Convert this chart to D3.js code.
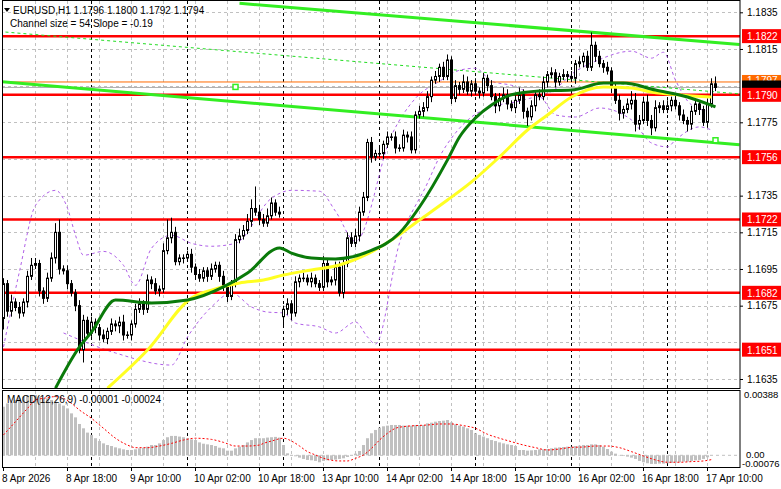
<!DOCTYPE html>
<html>
<head>
<meta charset="utf-8">
<script src="https://cdn.jsdelivr.net/npm/d3@7"></script>
<style>
  body { margin: 0; background: #fff; }
  text { font-family: "Liberation Sans", Arial, sans-serif; font-size: 10px; fill: #000; }
</style>
</head>
<body>
<script>
// EURUSD H1, 8 Apr 02:00 .. 17 Apr 12:00 (179 bars)
const firstOpen = 1.1668;
const gapOpen = {70: 1.1669};
const closes = [
  1.1687,1.1672,1.1677,1.1674,1.1671,1.1677,1.1691,1.1697,1.1698,1.1683,1.1679,1.1690,
  1.1701,1.1715,1.1695,1.1694,1.1687,1.1682,1.1675,1.1651,1.1667,1.1660,1.1666,1.1663,
  1.1659,1.1657,1.1661,1.1665,1.1664,1.1666,1.1659,1.1659,1.1665,1.1673,1.1676,1.1673,
  1.1689,1.1687,1.1683,1.1684,1.1705,1.1712,1.1715,1.1699,1.1701,1.1701,1.1703,1.1696,
  1.1692,1.1690,1.1694,1.1691,1.1695,1.1697,1.1691,1.1685,1.1680,1.1687,1.1711,1.1713,
  1.1716,1.1721,1.1728,1.1726,1.1722,1.1720,1.1724,1.1731,1.1726,1.1725,1.1673,1.1676,
  1.1671,1.1688,1.1690,1.1690,1.1688,1.1690,1.1687,1.1685,1.1698,1.1688,1.1689,1.1696,
  1.1682,1.1698,1.1712,1.1709,1.1713,1.1726,1.1734,1.1764,1.1756,1.1758,1.1758,1.1763,
  1.1767,1.1767,1.1761,1.1761,1.1768,1.1767,1.1760,1.1779,1.1781,1.1783,1.1789,1.1798,
  1.1800,1.1805,1.1800,1.1809,1.1788,1.1795,1.1793,1.1797,1.1792,1.1796,1.1792,1.1791,
  1.1799,1.1795,1.1789,1.1784,1.1788,1.1790,1.1785,1.1783,1.1787,1.1790,1.1781,1.1778,
  1.1784,1.1790,1.1789,1.1797,1.1801,1.1802,1.1797,1.1800,1.1801,1.1800,1.1799,1.1807,
  1.1808,1.1811,1.1805,1.1817,1.1811,1.1807,1.1805,1.1803,1.1794,1.1787,1.1780,1.1782,
  1.1785,1.1787,1.1774,1.1776,1.1786,1.1776,1.1772,1.1783,1.1784,1.1782,1.1784,1.1787,
  1.1784,1.1779,1.1776,1.1774,1.1781,1.1785,1.1782,1.1775,1.1785,1.1796,1.1794
];
// wick lengths in pips above / below the body
const upWick = [
  3,2,4,2,3,2,3,4,3,2,2,3, 3,5,7,2,3,2,2,3,3,2,3,2, 2,3,2,3,2,3,4,2,2,3,3,2,
  3,2,3,2,4,10,8,3,2,2,2,3, 2,3,2,2,3,2,2,3,2,2,3,4, 3,4,5,12,4,3,4,3,2,3,2,3,
  2,3,2,3,2,3,2,2,4,3,2,3, 3,3,3,3,4,3,3,2,3,2,3,2, 3,2,3,2,3,2,3,2,3,3,3,2,
  3,2,3,3,2,3,2,4,3,2,3,2, 3,2,3,2,3,4,3,2,3,4,3,2, 3,2,3,3,2,3,2,2,3,2,3,2,
  3,2,3,7,2,3,2,3,2,3,3,2, 3,5,4,3,3,4,3,4,2,3,3,2, 3,2,3,2,3,3,2,2,3,3,4
];
const dnWick = [
  6,3,3,2,3,2,3,2,2,3,3,2, 2,3,3,2,3,2,3,2,7,3,2,3, 3,2,3,2,3,4,3,2,3,2,2,3,
  2,3,2,3,2,2,3,2,2,3,2,3, 3,2,2,3,2,2,3,2,3,2,2,2, 2,2,3,2,3,2,2,2,2,2,5,3,
  4,2,3,2,2,3,2,2,2,3,2,3, 2,3,2,2,2,3,2,2,3,2,2,3, 2,2,3,2,2,3,2,2,2,3,2,3,
  2,3,2,2,3,2,3,2,2,3,2,3, 2,3,2,4,3,2,3,2,3,2,4,5, 2,3,2,2,3,2,3,2,2,3,2,3,
  2,3,2,2,3,2,3,2,3,2,4,3, 2,3,4,3,2,3,4,2,3,2,2,3, 2,3,2,4,3,2,3,2,3,2,2
];

// moving averages: [bar, price]
const maGreen = [[13,1.1630],[19,1.16525],[22,1.16606],[28,1.16781],[37,1.16765],[46,1.16781],
  [55,1.16852],[61,1.16928],[69,1.17065],[72,1.17037],[77,1.1701],[83,1.17005],[87,1.17015],
  [91,1.17043],[99,1.17146],[104,1.17288],[111,1.17545],[114,1.1767],[118,1.17774],[122,1.17845],
  [127,1.179],[134,1.17921],[142,1.17926],[150,1.17964],[155,1.17964],[163,1.17926],[171,1.17888],[178,1.17834]];
const maYellow = [[26,1.1630],[36,1.16508],[47,1.16792],[52,1.16835],[59,1.16874],[65,1.1689],
  [70,1.16917],[77,1.16945],[84,1.16972],[91,1.17032],[97,1.17108],[104,1.17217],[111,1.17326],
  [117,1.17425],[124,1.17561],[131,1.17708],[136,1.1779],[142,1.17888],[150,1.17943],[157,1.17937],
  [162,1.17915],[169,1.17899],[177,1.17888]];
const bandUpper = [[0,1.16525],[4,1.16937],[8,1.17297],[13,1.17379],[16,1.17281],[18,1.17134],
  [20,1.17025],[25,1.17046],[30,1.1697],[33,1.16861],[37,1.17063],[42,1.17134],[47,1.1709],
  [52,1.17074],[58,1.1709],[67,1.17336],[72,1.17379],[79,1.17374],[83,1.17265],[88,1.17101],
  [97,1.17679],[103,1.17881],[109,1.17974],[114,1.18034],[118,1.18045],[122,1.17974],[127,1.17952],
  [134,1.17897],[137,1.17919],[143,1.18028],[148,1.18083],[157,1.18138],[162,1.181],[165,1.18132],
  [168,1.1798],[172,1.17845],[177,1.17807]];
const bandLower = [[15,1.16601],[28,1.16492],[42,1.16426],[46,1.16579],[52,1.16743],[57,1.16819],
  [62,1.16743],[66,1.16715],[70,1.1671],[73,1.16655],[79,1.16634],[83,1.16601],[88,1.16661],
  [91,1.16579],[93,1.16541],[99,1.17092],[106,1.17419],[109,1.17561],[113,1.17692],[117,1.17779],
  [122,1.17834],[128,1.17861],[134,1.17888],[138,1.1779],[143,1.17779],[149,1.17828],[157,1.17763],
  [162,1.17637],[166,1.17616],[168,1.17654],[174,1.17725],[177,1.17708]];

// regression channel: [bar, price] at both ends
const chanUpper = [[59,1.18399],[184,1.18175]];
const chanLower = [[-1,1.17972],[184,1.17628]];
const chanMid = [[-1,1.18245],[184,1.17905]];
const chanMarks = [[58,1.17943],[178,1.17652]];

const levels = [1.1822, 1.1790, 1.1756, 1.1722, 1.1682, 1.1651];
const priceTicks = [1.1835, 1.1815, 1.1775, 1.1735, 1.1715, 1.1695, 1.1675, 1.1635];
const gridPrices = [1.1835,1.1815,1.1795,1.1775,1.1755,1.1735,1.1715,1.1695,1.1675,1.1655,1.1635];
const dayStarts = [22, 46, 70, 94, 118, 142, 166];
const timeLabels = ["8 Apr 2026","8 Apr 18:00","9 Apr 10:00","10 Apr 02:00","10 Apr 18:00",
  "13 Apr 10:00","14 Apr 02:00","14 Apr 18:00","15 Apr 10:00","16 Apr 02:00","16 Apr 18:00","17 Apr 10:00"];

// MACD main line (x 1e-5), one per bar
const macd = [
  293,313,320,334,344,354,360,364,364,354,344,344,334,324,313,300,283,253,229,189,163,137,123,103,
  86,72,62,56,48,42,36,32,32,36,42,46,52,62,62,72,92,109,117,117,113,109,103,96,
  92,78,70,66,62,56,46,42,28,28,42,52,62,78,92,103,103,
  103,107,109,111,107,62,12,-2,-6,-14,-22,-28,-30,-34,-42,-34,-30,-28,-26,-22,-18,-10,-2,10,
  26,62,103,133,153,167,175,179,183,183,183,179,179,179,183,183,183,193,197,203,207,209,
  213,199,187,179,173,163,153,133,123,113,103,92,86,78,72,66,62,56,
  32,32,28,30,32,36,36,38,42,46,48,50,52,52,56,58,62,62,66,66,62,52,38,22,10,2,
  -4,-8,-14,-22,-34,-42,-48,-52,-52,-50,-50,-48,-46,-44,-42,-38,-38,-34,-30,-28,-22,-12,-1
];
const signal = [[0,123],[3,203],[6,283],[8,334],[10,344],[13,354],[15,344],[17,313],[19,273],
  [22,223],[25,163],[28,103],[31,62],[33,46],[36,46],[39,56],[42,72],[45,92],[48,103],[52,96],
  [55,78],[58,56],[61,56],[64,62],[65,72],[67,86],[70,103],[72,86],[74,56],[76,22],[78,2],
  [80,-18],[82,-30],[84,-34],[86,-34],[88,-18],[90,2],[92,42],[94,92],[96,133],[98,163],
  [100,173],[103,179],[106,183],[109,189],[112,189],[115,179],[118,163],[121,127],[124,103],
  [127,82],[130,62],[133,46],[136,32],[139,38],[142,48],[145,50],[148,56],[151,56],[154,46],
  [157,22],[160,-4],[163,-28],[166,-42],[169,-42],[172,-38],[175,-34],[177,-26]];

const W = 781, H = 489, right = 740;
const svg = d3.select("body").append("svg").attr("width", W).attr("height", H)
  .style("display", "block");

const x = d3.scaleLinear().domain([0, 178]).range([3.5, 715.5]);
const y = d3.scaleLinear().domain([1.1635, 1.1835]).range([379, 12.3]);
const ym = d3.scaleLinear().domain([-0.00076, 0.00388]).range([467.9, 391]);

const defs = svg.append("defs");
defs.append("clipPath").attr("id", "clipMain")
  .append("rect").attr("x", 2).attr("y", 1).attr("width", right - 2).attr("height", 387);
defs.append("clipPath").attr("id", "clipMacd")
  .append("rect").attr("x", 2).attr("y", 390).attr("width", right - 2).attr("height", 77);

// grid
const grid = svg.append("g").attr("stroke", "#c0c0c0").attr("stroke-dasharray", "3,3");
grid.selectAll(".hg").data(gridPrices).enter().append("line")
  .attr("x1", 2).attr("x2", right).attr("y1", d => Math.round(y(d)) + 0.5).attr("y2", d => Math.round(y(d)) + 0.5);
grid.selectAll(".vg").data(d3.range(8, 179, 8)).enter().append("line")
  .attr("x1", d => x(d)).attr("x2", d => x(d)).attr("y1", 1).attr("y2", 467);
svg.append("g").attr("stroke", "#000").attr("stroke-dasharray", "3,3")
  .selectAll("line").data(dayStarts).enter().append("line")
  .attr("x1", d => x(d)).attr("x2", d => x(d)).attr("y1", 1).attr("y2", 467);

// MACD panel
const mp = svg.append("g").attr("clip-path", "url(#clipMacd)");
mp.append("line").attr("x1", 2).attr("x2", right).attr("y1", ym(0)).attr("y2", ym(0))
  .attr("stroke", "#c0c0c0").attr("stroke-dasharray", "3,3");
mp.selectAll("rect").data(macd).enter().append("rect")
  .attr("x", (d, i) => x(i) - 1.5).attr("width", 3)
  .attr("y", d => Math.min(ym(d * 1e-5), ym(0)))
  .attr("height", d => Math.abs(ym(d * 1e-5) - ym(0)))
  .attr("fill", "#c0c0c0");
mp.append("path").datum(signal)
  .attr("d", d3.line().x(d => x(d[0])).y(d => ym(d[1] * 1e-5)).curve(d3.curveMonotoneX))
  .attr("fill", "none").attr("stroke", "#ff0000").attr("stroke-dasharray", "2,2");

// main panel content
const mc = svg.append("g").attr("clip-path", "url(#clipMain)");
const line = d3.line().x(d => x(d[0])).y(d => y(d[1])).curve(d3.curveMonotoneX);

[bandUpper, bandLower].forEach(b => mc.append("path").datum(b).attr("d", line)
  .attr("fill", "none").attr("stroke", "#b060e8").attr("stroke-dasharray", "3,3"));

levels.forEach(l => mc.append("line").attr("x1", 2).attr("x2", right)
  .attr("y1", y(l)).attr("y2", y(l)).attr("stroke", "#ff0000").attr("stroke-width", 2.5));
mc.append("line").attr("x1", 2).attr("x2", right).attr("y1", y(1.1797)).attr("y2", y(1.1797))
  .attr("stroke", "#ff6a00");
mc.append("line").attr("x1", 2).attr("x2", right).attr("y1", y(1.1794)).attr("y2", y(1.1794))
  .attr("stroke", "#b0b0b0");

const straight = d3.line().x(d => x(d[0])).y(d => y(d[1]));
mc.append("path").datum(chanMid).attr("d", straight).attr("stroke", "#22dd22")
  .attr("stroke-dasharray", "3,3").attr("fill", "none");
[chanUpper, chanLower].forEach(c => mc.append("path").datum(c).attr("d", straight)
  .attr("stroke", "#33ee22").attr("stroke-width", 3).attr("fill", "none"));
mc.selectAll(".mk").data(chanMarks).enter().append("rect")
  .attr("x", d => x(d[0]) - 2.5).attr("y", d => y(d[1]) - 2.5).attr("width", 5).attr("height", 5)
  .attr("fill", "#fff").attr("stroke", "#33ee22").attr("stroke-width", 1.5);

// candles
const bars = closes.map((c, i) => {
  const o = i === 0 ? firstOpen : (gapOpen[i] !== undefined ? gapOpen[i] : closes[i - 1]);
  return {i, o, c, h: Math.max(o, c) + upWick[i] / 1e4, l: Math.min(o, c) - dnWick[i] / 1e4};
});
const cg = mc.append("g");
cg.selectAll("line").data(bars).enter().append("line")
  .attr("x1", d => x(d.i)).attr("x2", d => x(d.i))
  .attr("y1", d => y(d.h)).attr("y2", d => y(d.l)).attr("stroke", "#000");
cg.selectAll("rect").data(bars).enter().append("rect")
  .attr("x", d => x(d.i) - 1).attr("width", 2)
  .attr("y", d => y(Math.max(d.o, d.c)))
  .attr("height", d => Math.max(0.5, Math.abs(y(d.o) - y(d.c))))
  .attr("fill", d => d.c >= d.o ? "#fff" : "#000").attr("stroke", "#000");

mc.append("path").datum(maYellow).attr("d", line).attr("fill", "none")
  .attr("stroke", "#ffff22").attr("stroke-width", 3);
mc.append("path").datum(maGreen).attr("d", line).attr("fill", "none")
  .attr("stroke", "#0a7a0a").attr("stroke-width", 3);

// frames
svg.append("rect").attr("x", 2.5).attr("y", 0.5).attr("width", right - 2.5).attr("height", 388)
  .attr("fill", "none").attr("stroke", "#000");
svg.append("rect").attr("x", 2.5).attr("y", 390.5).attr("width", right - 2.5).attr("height", 77)
  .attr("fill", "none").attr("stroke", "#000");

// price axis
const ax = svg.append("g").attr("transform", `translate(${right},0)`)
  .call(d3.axisRight(y).tickValues(priceTicks).tickFormat(d3.format(".4f")).tickSize(3));
ax.select(".domain").remove();
ax.selectAll("text").attr("x", 7).style("font-size", "10px");

function tag(p, label, color, dy) {
  const g = svg.append("g");
  g.append("rect").attr("x", right + 2).attr("y", y(p) - 7).attr("width", 39).attr("height", 14).attr("fill", color);
  g.append("text").attr("x", right + 7).attr("y", y(p) + 4 + (dy || 0)).text(label).style("fill", "#fff");
}
tag(1.1797, "1.1797", "#ff6a00", -2);
tag(1.1794, "", "#000");
levels.forEach(l => tag(l, l.toFixed(4), "#ff0000"));

// macd axis
svg.append("text").attr("x", right + 4).attr("y", 398).text("0.00388").style("font-size", "9.5px");
svg.append("text").attr("x", right + 6).attr("y", 458).text("0.00").style("font-size", "9.5px");
svg.append("text").attr("x", right + 2).attr("y", 467).text("-0.00076").style("font-size", "9.5px");

// time axis
svg.selectAll(".tl").data(timeLabels).enter().append("text")
  .attr("x", (d, k) => x(k * 16) - 1.5).attr("y", 482).text(d => d);
svg.selectAll(".tk").data(timeLabels).enter().append("line")
  .attr("x1", (d, k) => x(k * 16)).attr("x2", (d, k) => x(k * 16))
  .attr("y1", 467).attr("y2", 471).attr("stroke", "#000");

// titles
svg.append("path").attr("d", "M4,8 L10,8 L7,12 Z").attr("fill", "#000");
svg.append("text").attr("x", 13).attr("y", 14).text("EURUSD,H1  1.1796 1.1800 1.1792 1.1794");
svg.append("text").attr("x", 10).attr("y", 27).text("Channel size = 54 Slope = -0.19");
svg.append("text").attr("x", 7).attr("y", 403).text("MACD(12,26,9) -0.00001 -0.00024");
</script>
</body>
</html>
